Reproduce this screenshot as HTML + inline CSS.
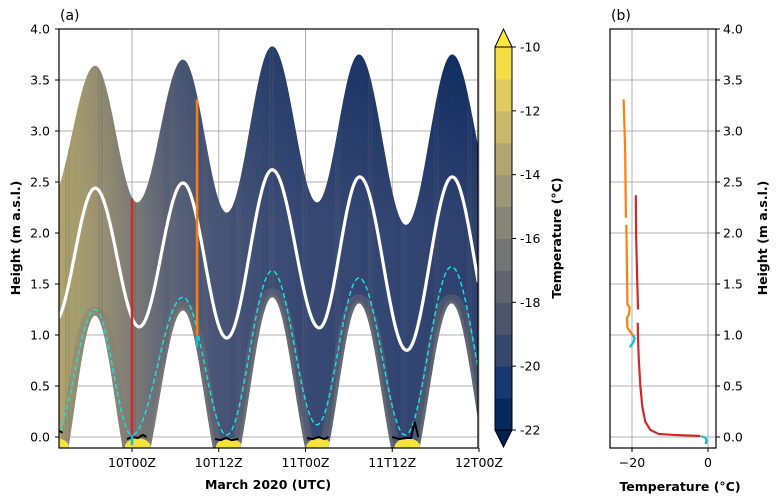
<!DOCTYPE html>
<html><head><meta charset="utf-8"><style>
body{margin:0;background:#fff}
svg{display:block;font-family:"DejaVu Sans","Liberation Sans",sans-serif}
</style></head><body>
<svg id="c" width="778" height="502" viewBox="0 0 778 502">
<defs>
<clipPath id="clipA"><rect x="59" y="29" width="419" height="419"/></clipPath>
<clipPath id="clipB"><rect x="610" y="29" width="106" height="419"/></clipPath>
<linearGradient id="hgrad" x1="59" y1="0" x2="478" y2="0" gradientUnits="userSpaceOnUse">
<stop offset="0" stop-color="#b0a56b"/><stop offset="0.1" stop-color="#9a9172"/>
<stop offset="0.17" stop-color="#7e7c76"/><stop offset="0.25" stop-color="#606677"/>
<stop offset="0.36" stop-color="#4a5676"/><stop offset="0.55" stop-color="#394a74"/>
<stop offset="1" stop-color="#2e416f"/></linearGradient>
<linearGradient id="vdark" x1="0" y1="40" x2="0" y2="220" gradientUnits="userSpaceOnUse">
<stop offset="0" stop-color="#06265c" stop-opacity="0.85"/><stop offset="1" stop-color="#06265c" stop-opacity="0"/></linearGradient>
<linearGradient id="hmask" x1="59" y1="0" x2="478" y2="0" gradientUnits="userSpaceOnUse">
<stop offset="0" stop-color="#000"/><stop offset="0.3" stop-color="#444"/><stop offset="1" stop-color="#fff"/></linearGradient>
<mask id="rightMask"><rect x="59" y="29" width="419" height="419" fill="url(#hmask)"/></mask>
</defs>
<g id="panelA"></g>
<g id="cbar"></g>
<g id="panelB"></g>
</svg>
<script>
// ---- data: panel (a) extrema (hours from 10T00Z, height m) ----
const upperT=[-11.5,-5.1,0.7,7.05,13.1,19.4,25.6,31.4,37.9,44.3,50.5];
const upperH=[2.3,3.64,2.30,3.70,2.20,3.83,2.30,3.75,2.08,3.75,2.3];
const lowerT=[-10.8,-5.1,0.5,7.05,13.1,19.4,25.6,31.4,37.8,44.2,50.5];
const lowerH=[-0.6,1.19,-0.5,1.24,-0.5,1.37,-0.4,1.31,-0.5,1.31,-0.5];
const whiteT=[-10.8,-5.1,1.0,7.05,13.1,19.4,25.9,31.5,38.0,44.3,50.5];
const whiteH=[1.12,2.44,1.08,2.49,0.97,2.62,1.07,2.55,0.85,2.55,0.9];
const cyanT=[-10.8,-5.1,0.0,7.05,13.1,19.4,25.6,31.4,37.8,44.2,50.5];
const cyanH=[0.0,1.25,0.02,1.37,0.02,1.63,0.12,1.56,0.02,1.67,0.1];
const groundT=[[-10.1,-9.8,-9.6],[-0.7,0,0.8,1.5,2.0],[11.5,12.3,13.0,13.8,14.7],[24.2,25,25.8,26.6,27.2],[36.0,37.0,38.0,38.6,39.1,39.6]];
const groundH=[[0.06,0.05,0.04],[-0.02,0.0,-0.01,0.02,0.0],[-0.02,-0.03,-0.01,-0.03,-0.02],[-0.01,-0.02,0.0,-0.02,0.0],[0.0,-0.02,-0.01,-0.01,0.15,0.0]];
const redProfileT=0, orangeProfileT=9.0;
const xTicksT=[0,12,24,36,48];
const xTickLabels=["10T00Z","10T12Z","11T00Z","11T12Z","12T00Z"];
const yTicks=[0,0.5,1,1.5,2,2.5,3,3.5,4];
const cbLevels=[-22,-21,-20,-19,-18,-17,-16,-15,-14,-13,-12,-11,-10];
const cbTicks=[-10,-12,-14,-16,-18,-20,-22];
// ---- panel (b) profiles (temperature °C, height m) ----
const redTemp=[-19.0,-18.9,-18.6,-18.4,null,-18.5,-18.4,-18.2,-17.8,-17.3,-16.5,-15.2,-13.0,-9.0,-2.0];
const redHgt=[2.37,1.95,1.5,1.25,null,1.12,0.95,0.75,0.5,0.3,0.15,0.07,0.03,0.02,0.01];
const orangeTemp=[-22.2,-21.8,-21.6,null,-21.5,-21.3,-21.2,-20.6,-20.8,-21.3,-21.2,-20.6,-19.8];
const orangeHgt=[3.31,2.8,2.15,null,2.08,1.6,1.3,1.27,1.2,1.17,1.07,1.04,1.0];
const cyanProfTemp=[-19.8,-19.3,-19.6,-20.2,-20.6];
const cyanProfHgt=[1.0,0.97,0.93,0.9,0.88];
const cyanSfcTemp=[-1.8,-0.6,-0.4,-0.6];
const cyanSfcHgt=[0.01,-0.01,-0.04,-0.07];

const NS="http://www.w3.org/2000/svg";
const xS=t=>132+t*7.229;
const yS=h=>437-h*102;
const xT=T=>708+T*3.8;
function el(tag,attrs,parent){const e=document.createElementNS(NS,tag);for(const k in attrs)e.setAttribute(k,attrs[k]);parent.appendChild(e);return e;}
function cosInterp(ts,hs,t){for(let i=0;i<ts.length-1;i++){if(t>=ts[i]&&t<=ts[i+1]){const f=(t-ts[i])/(ts[i+1]-ts[i]);return hs[i]+(hs[i+1]-hs[i])*(1-Math.cos(Math.PI*f))/2;}}return hs[hs.length-1];}
const t0=-10.1,t1=47.9;
function curve(ts,hs,clipLow){const p=[];for(let t=t0;t<=t1+0.001;t+=0.1){let h=cosInterp(ts,hs,t);if(clipLow!==undefined)h=Math.max(h,clipLow);p.push([xS(t),yS(h)]);}return p;}
const A=document.getElementById('panelA');

const gA=el('g',{},A);

xTicksT.forEach(t=>el('line',{x1:xS(t),x2:xS(t),y1:29,y2:448,stroke:'#b0b0b0','stroke-width':1},gA));
yTicks.forEach(h=>el('line',{x1:59,x2:478,y1:yS(h),y2:yS(h),stroke:'#b0b0b0','stroke-width':1},gA));

const dataG=el('g',{'clip-path':'url(#clipA)'},A);
const up=curve(upperT,upperH), lo=curve(lowerT,lowerH,-0.12);
const fillD='M'+up.map(p=>p.join(',')).join('L')+'L'+lo.reverse().map(p=>p.join(',')).join('L')+'Z';
el('clipPath',{id:'fillClip'},dataG).appendChild(document.createElementNS(NS,'path')).setAttribute('d',fillD);
const field=el('path',{d:fillD,fill:'url(#hgrad)'},dataG);

const fc=el('g',{'clip-path':'url(#fillClip)'},dataG);
el('rect',{x:59,y:29,width:419,height:419,fill:'url(#vdark)',mask:'url(#rightMask)'},fc);
const loD='M'+curve(lowerT,lowerH,-0.12).map(p=>p.join(',')).join('L');
el('path',{d:loD,fill:'none',stroke:'#7d7b72','stroke-width':18,'stroke-opacity':0.35},fc);
el('path',{d:loD,fill:'none',stroke:'#8a8672','stroke-width':6,'stroke-opacity':0.35},fc);
for(let x=60;x<478;x+=3){const k=(x*37)%11;if(k<4)el('line',{x1:x,x2:x,y1:29,y2:448,stroke:k<2?'#1a3468':'#8a8775','stroke-width':1,'stroke-opacity':0.18},fc);}
lowerT.forEach((t,i)=>{if(lowerH[i]<0){const ye=el('ellipse',{cx:xS(t+0.3),cy:yS(-0.1),rx:13,ry:9,fill:'#f5e23a'},fc);}});
const wl=el('path',{d:'M'+curve(whiteT,whiteH).map(p=>p.join(',')).join('L'),fill:'none',stroke:'#fff','stroke-width':3.2},dataG);

const cl=el('path',{d:'M'+curve(cyanT,cyanH).map(p=>p.join(',')).join('L'),fill:'none',stroke:'#17e5e5','stroke-width':1.4,'stroke-dasharray':'5,3'},dataG);

groundT.forEach((ts,i)=>{const g=el('polyline',{points:ts.map((t,j)=>xS(t)+','+yS(groundH[i][j])).join(' '),fill:'none',stroke:'#000','stroke-width':2},dataG);});
const rl=el('line',{x1:xS(redProfileT),x2:xS(redProfileT),y1:yS(2.34),y2:yS(0.02),stroke:'#d62728','stroke-width':2.5},dataG);

el('line',{x1:xS(redProfileT),x2:xS(redProfileT),y1:yS(0.02),y2:yS(-0.08),stroke:'#17becf','stroke-width':2.5},dataG);
const ol=el('line',{x1:xS(orangeProfileT),x2:xS(orangeProfileT),y1:yS(3.31),y2:yS(1.0),stroke:'#ff7f0e','stroke-width':2.5},dataG);

el('line',{x1:xS(orangeProfileT),x2:xS(orangeProfileT),y1:yS(1.0),y2:yS(0.88),stroke:'#17becf','stroke-width':2.5},dataG);

el('rect',{x:59,y:29,width:419,height:419,fill:'none',stroke:'#000','stroke-width':1.2},A);
xTicksT.forEach((t,i)=>{el('line',{x1:xS(t),x2:xS(t),y1:448,y2:452,stroke:'#000'},A);const tx=el('text',{x:xS(t),y:467,'font-size':12.5,'text-anchor':'middle'},A);tx.textContent=xTickLabels[i];});
yTicks.forEach(h=>{el('line',{x1:55,x2:59,y1:yS(h),y2:yS(h),stroke:'#000'},A);const tx=el('text',{x:50,y:yS(h)+4.5,'font-size':12.5,'text-anchor':'end'},A);tx.textContent=h.toFixed(1);});
let t;
t=el('text',{x:60,y:20,'font-size':14},A);t.textContent='(a)';
t=el('text',{x:268,y:489,'font-size':12.5,'font-weight':'bold','text-anchor':'middle'},A);t.textContent='March 2020 (UTC)';
t=el('text',{x:0,y:0,'font-size':12.5,'font-weight':'bold','text-anchor':'middle',transform:'translate(20,238) rotate(-90)'},A);t.textContent='Height (m a.s.l.)';

const cividis=[[0,32,77],[18,53,112],[59,73,108],[87,92,109],[112,113,115],[138,135,121],[166,157,117],[196,181,108],[228,207,91],[253,231,55]];
function cmap(f){const p=f*(cividis.length-1),i=Math.min(Math.floor(p),cividis.length-2),r=p-i;const c=cividis[i].map((v,k)=>Math.round(v+(cividis[i+1][k]-v)*r));return 'rgb('+c.join(',')+')';}
const CB=document.getElementById('cbar');
const cbX=495,cbW=17,cbTop=47,cbBot=430;
const cy=v=>cbBot-(v-(-22))/12*(cbBot-cbTop);
for(let i=0;i<cbLevels.length-1;i++){const r=el('rect',{x:cbX,y:cy(cbLevels[i+1]),width:cbW,height:cy(cbLevels[i])-cy(cbLevels[i+1])+0.5,fill:cmap((i+0.5)/12)},CB);}
el('polygon',{points:`${cbX},${cbTop} ${cbX+cbW/2},29 ${cbX+cbW},${cbTop}`,fill:'#fde737',stroke:'#000','stroke-width':1},CB);
el('polygon',{points:`${cbX},${cbBot} ${cbX+cbW/2},447 ${cbX+cbW},${cbBot}`,fill:'#00204d',stroke:'#000','stroke-width':1},CB);
el('rect',{x:cbX,y:cbTop,width:cbW,height:cbBot-cbTop,fill:'none',stroke:'#000','stroke-width':1},CB);
cbTicks.forEach(v=>{el('line',{x1:cbX+cbW,x2:cbX+cbW+4,y1:cy(v),y2:cy(v),stroke:'#000'},CB);const tx=el('text',{x:520,y:cy(v)+4.5,'font-size':12.5},CB);tx.textContent=String(v);});
t=el('text',{x:0,y:0,'font-size':12.5,'font-weight':'bold','text-anchor':'middle',transform:'translate(561,238) rotate(-90)'},CB);t.textContent='Temperature (°C)';

const B=document.getElementById('panelB');
const gB=el('g',{},B);
[-20,0].forEach(T=>el('line',{x1:xT(T),x2:xT(T),y1:29,y2:448,stroke:'#b0b0b0'},gB));
yTicks.forEach(h=>el('line',{x1:610,x2:716,y1:yS(h),y2:yS(h),stroke:'#b0b0b0'},gB));
const pB=el('g',{'clip-path':'url(#clipB)'},B);
function prof(T,H,color,name){let seg=[];const segs=[];T.forEach((v,i)=>{if(v===null){segs.push(seg);seg=[];}else seg.push(xT(v)+','+yS(H[i]));});segs.push(seg);segs.forEach(s=>{const pl=el('polyline',{points:s.join(' '),fill:'none',stroke:color,'stroke-width':2.2,'stroke-linejoin':'round'},pB);});}
prof(redTemp,redHgt,'#d62728','red-profile');
prof(orangeTemp,orangeHgt,'#ff7f0e','orange-profile');
prof(cyanProfTemp,cyanProfHgt,'#17becf','cyan-profile');
prof(cyanSfcTemp,cyanSfcHgt,'#17becf','cyan-surface-profile');
el('rect',{x:610,y:29,width:106,height:419,fill:'none',stroke:'#000','stroke-width':1.2},B);
[-20,0].forEach(T=>{el('line',{x1:xT(T),x2:xT(T),y1:448,y2:452,stroke:'#000'},B);const tx=el('text',{x:xT(T),y:467,'font-size':12.5,'text-anchor':'middle'},B);tx.textContent=T===0?'0':'−20';});
yTicks.forEach(h=>{el('line',{x1:716,x2:720,y1:yS(h),y2:yS(h),stroke:'#000'},B);const tx=el('text',{x:723,y:yS(h)+4.5,'font-size':12.5},B);tx.textContent=h.toFixed(1);});
t=el('text',{x:611,y:20,'font-size':14},B);t.textContent='(b)';
t=el('text',{x:680,y:491,'font-size':12.5,'font-weight':'bold','text-anchor':'middle'},B);t.textContent='Temperature (°C)';
t=el('text',{x:0,y:0,'font-size':12.5,'font-weight':'bold','text-anchor':'middle',transform:'translate(767,238) rotate(-90)'},B);t.textContent='Height (m a.s.l.)';
</script>
</body></html>
